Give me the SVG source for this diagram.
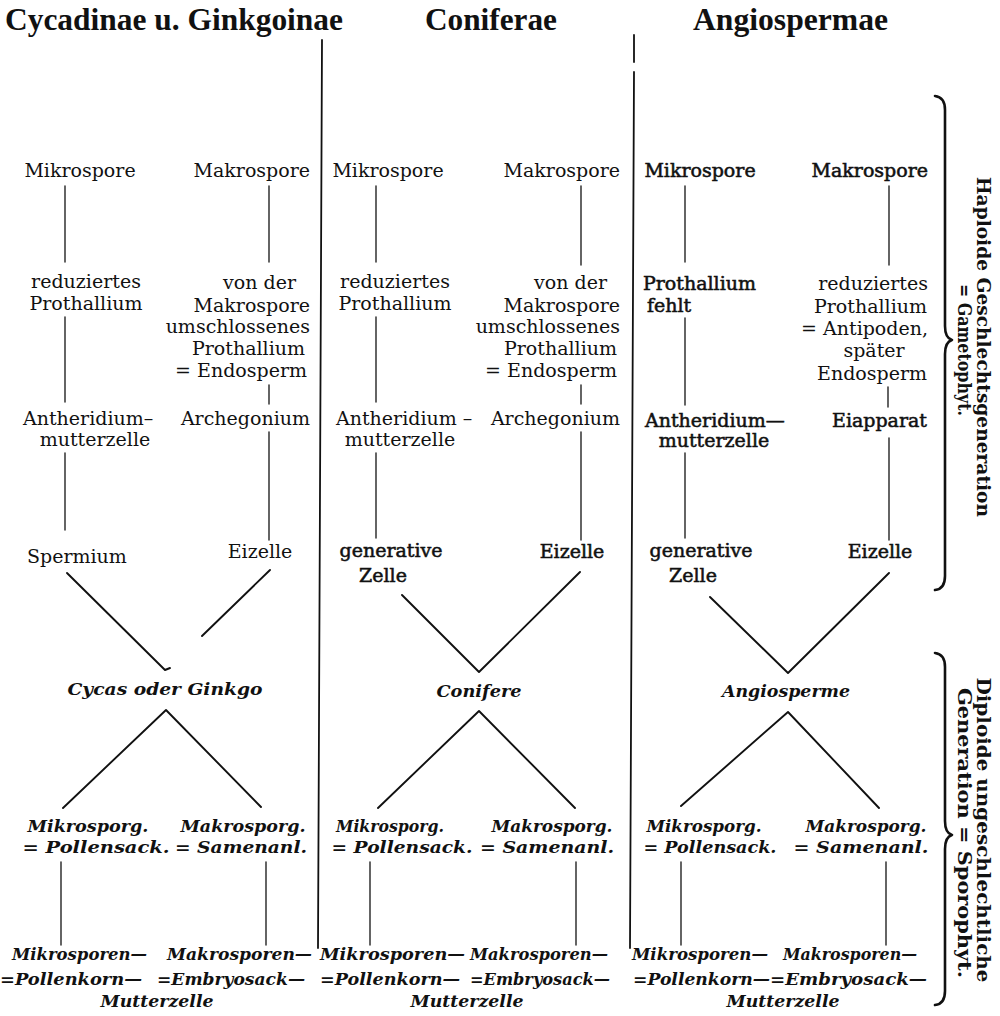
<svg xmlns="http://www.w3.org/2000/svg" width="1000" height="1016" viewBox="0 0 1000 1016">
<style>
text{fill:#111;font-family:"DejaVu Serif","Liberation Serif",serif}
.h{font-family:"Liberation Serif",serif;font-weight:bold;font-size:32px}
.t{font-size:19px}
.b{font-size:19px;stroke:#111;stroke-width:0.55}
.i{font-size:17px;font-style:italic;font-weight:bold}
.v{font-size:18px;font-weight:bold}
.m{text-anchor:middle}
.e{text-anchor:end}
line,polyline,path{stroke:#111;fill:none;stroke-linecap:round;stroke-linejoin:round}
.thin{stroke-width:1.3}
.diag{stroke-width:1.9}
.div{stroke-width:1.8}
.br{stroke-width:2.6}
</style>
<rect width="1000" height="1016" fill="#fff"/>

<g id="headers">
<text class="h" x="5" y="30" textLength="338" lengthAdjust="spacingAndGlyphs">Cycadinae u. Ginkgoinae</text>
<text class="h" x="425" y="30" textLength="132" lengthAdjust="spacingAndGlyphs">Coniferae</text>
<text class="h" x="693" y="30" textLength="195" lengthAdjust="spacingAndGlyphs">Angiospermae</text>
</g>

<g id="connectors">
<line class="div" x1="322" y1="40" x2="318" y2="948"/>
<line class="div" x1="634" y1="35" x2="634" y2="62"/>
<line class="div" x1="634" y1="72" x2="630" y2="948"/>
<!-- col 1 -->
<line class="thin" x1="65" y1="186" x2="65" y2="262"/>
<line class="thin" x1="269" y1="186" x2="269" y2="262"/>
<line class="thin" x1="65" y1="317" x2="65" y2="402"/>
<line class="thin" x1="269" y1="385" x2="269" y2="404"/>
<line class="thin" x1="65" y1="453" x2="65" y2="530"/>
<line class="thin" x1="269" y1="432" x2="269" y2="540"/>
<polyline class="diag" points="67,573 165,670 170,668"/>
<line class="diag" x1="270" y1="570" x2="202" y2="636"/>
<polyline class="diag" points="63,808 166,710 261,807"/>
<line class="thin" x1="61" y1="862" x2="61" y2="945"/>
<line class="thin" x1="266" y1="862" x2="266" y2="945"/>
<!-- col 2 -->
<line class="thin" x1="376" y1="186" x2="376" y2="262"/>
<line class="thin" x1="581" y1="186" x2="581" y2="265"/>
<line class="thin" x1="376" y1="317" x2="376" y2="402"/>
<line class="thin" x1="581" y1="385" x2="581" y2="404"/>
<line class="thin" x1="376" y1="453" x2="376" y2="538"/>
<line class="thin" x1="581" y1="432" x2="581" y2="540"/>
<polyline class="diag" points="402,595 479,672 580,572"/>
<polyline class="diag" points="378,808 479,711 575,808"/>
<line class="thin" x1="370" y1="862" x2="370" y2="945"/>
<line class="thin" x1="576" y1="862" x2="576" y2="945"/>
<!-- col 3 -->
<line class="thin" x1="685" y1="186" x2="685" y2="262"/>
<line class="thin" x1="889" y1="186" x2="889" y2="265"/>
<line class="thin" x1="685" y1="318" x2="685" y2="405"/>
<line class="thin" x1="888" y1="387" x2="888" y2="407"/>
<line class="thin" x1="685" y1="453" x2="685" y2="538"/>
<line class="thin" x1="889" y1="438" x2="889" y2="540"/>
<polyline class="diag" points="710,597 788,673 889,573"/>
<polyline class="diag" points="681,806 788,712 879,808"/>
<line class="thin" x1="681" y1="862" x2="681" y2="945"/>
<line class="thin" x1="886" y1="862" x2="886" y2="945"/>
<!-- braces -->
<path class="br" d="M935 96 Q945 97 945 110 L945 326 Q945 338 952 340 Q945 342 945 354 L945 576 Q945 589 935 590"/>
<path class="br" d="M935 653 Q945 654 945 667 L945 821 Q945 833 952 835 Q945 837 945 849 L945 991 Q945 1004 935 1005"/>
</g>

<g id="col1">
<text class="t m" x="80" y="177">Mikrospore</text>
<text class="t e" x="310" y="177">Makrospore</text>
<text class="t m" x="86" y="288">reduziertes</text>
<text class="t m" x="86" y="310">Prothallium</text>
<text class="t e" x="296" y="289">von der</text>
<text class="t e" x="310" y="312">Makrospore</text>
<text class="t e" x="310" y="333">umschlossenes</text>
<text class="t e" x="305" y="355">Prothallium</text>
<text class="t e" x="307" y="377">= Endosperm</text>
<text class="t" x="23" y="425">Antheridium–</text>
<text class="t e" x="310" y="425">Archegonium</text>
<text class="t m" x="95" y="446">mutterzelle</text>
<text class="t" x="27" y="563">Spermium</text>
<text class="t m" x="260" y="558">Eizelle</text>
<text class="i m" x="165" y="695" textLength="195" lengthAdjust="spacingAndGlyphs">Cycas oder Ginkgo</text>
<text class="i m" x="88" y="832" textLength="121" lengthAdjust="spacingAndGlyphs">Mikrosporg.</text>
<text class="i m" x="96" y="853" textLength="147" lengthAdjust="spacingAndGlyphs">= Pollensack.</text>
<text class="i m" x="243" y="832" textLength="125" lengthAdjust="spacingAndGlyphs">Makrosporg.</text>
<text class="i m" x="241" y="853" textLength="132" lengthAdjust="spacingAndGlyphs">= Samenanl.</text>
<text class="i" x="12" y="960" textLength="135" lengthAdjust="spacingAndGlyphs">Mikrosporen—</text>
<text class="i" x="167" y="960" textLength="145" lengthAdjust="spacingAndGlyphs">Makrosporen—</text>
<text class="i" x="0" y="985" textLength="142" lengthAdjust="spacingAndGlyphs">=Pollenkorn—</text>
<text class="i" x="157" y="985" textLength="148" lengthAdjust="spacingAndGlyphs">=Embryosack—</text>
<text class="i m" x="157" y="1007" textLength="113" lengthAdjust="spacingAndGlyphs">Mutterzelle</text>
</g>

<g id="col2">
<text class="t m" x="388" y="177">Mikrospore</text>
<text class="t e" x="620" y="177">Makrospore</text>
<text class="t m" x="395" y="288">reduziertes</text>
<text class="t m" x="395" y="310">Prothallium</text>
<text class="t e" x="607" y="289">von der</text>
<text class="t e" x="620" y="312">Makrospore</text>
<text class="t e" x="620" y="333">umschlossenes</text>
<text class="t e" x="617" y="355">Prothallium</text>
<text class="t e" x="617" y="377">= Endosperm</text>
<text class="t" x="336" y="425">Antheridium –</text>
<text class="t e" x="620" y="425">Archegonium</text>
<text class="t m" x="400" y="446">mutterzelle</text>
<text class="b m" x="391" y="557">generative</text>
<text class="b m" x="383" y="582">Zelle</text>
<text class="b m" x="572" y="558">Eizelle</text>
<text class="i m" x="479" y="697" textLength="85" lengthAdjust="spacingAndGlyphs">Conifere</text>
<text class="i m" x="390" y="832" textLength="108" lengthAdjust="spacingAndGlyphs">Mikrosporg.</text>
<text class="i m" x="402" y="853" textLength="141" lengthAdjust="spacingAndGlyphs">= Pollensack.</text>
<text class="i m" x="552" y="832" textLength="121" lengthAdjust="spacingAndGlyphs">Makrosporg.</text>
<text class="i m" x="547" y="853" textLength="134" lengthAdjust="spacingAndGlyphs">= Samenanl.</text>
<text class="i" x="320" y="960" textLength="145" lengthAdjust="spacingAndGlyphs">Mikrosporen—</text>
<text class="i" x="470" y="960" textLength="138" lengthAdjust="spacingAndGlyphs">Makrosporen—</text>
<text class="i" x="320" y="985" textLength="140" lengthAdjust="spacingAndGlyphs">=Pollenkorn—</text>
<text class="i" x="470" y="985" textLength="140" lengthAdjust="spacingAndGlyphs">=Embryosack—</text>
<text class="i m" x="467" y="1007" textLength="113" lengthAdjust="spacingAndGlyphs">Mutterzelle</text>
</g>

<g id="col3">
<text class="b m" x="700" y="177">Mikrospore</text>
<text class="b e" x="928" y="177">Makrospore</text>
<text class="b" x="643" y="290">Prothallium</text>
<text class="b" x="647" y="312">fehlt</text>
<text class="t e" x="928" y="290">reduziertes</text>
<text class="t e" x="927" y="313">Prothallium</text>
<text class="t e" x="928" y="335">= Antipoden,</text>
<text class="t m" x="874" y="357">später</text>
<text class="t e" x="927" y="380">Endosperm</text>
<text class="b" x="645" y="427">Antheridium—</text>
<text class="b m" x="714" y="447">mutterzelle</text>
<text class="b e" x="927" y="427">Eiapparat</text>
<text class="b m" x="701" y="557">generative</text>
<text class="b m" x="693" y="582">Zelle</text>
<text class="b m" x="880" y="558">Eizelle</text>
<text class="i m" x="786" y="697" textLength="128" lengthAdjust="spacingAndGlyphs">Angiosperme</text>
<text class="i m" x="704" y="832" textLength="115" lengthAdjust="spacingAndGlyphs">Mikrosporg.</text>
<text class="i m" x="710" y="853" textLength="133" lengthAdjust="spacingAndGlyphs">= Pollensack.</text>
<text class="i m" x="866" y="832" textLength="121" lengthAdjust="spacingAndGlyphs">Makrosporg.</text>
<text class="i m" x="861" y="853" textLength="135" lengthAdjust="spacingAndGlyphs">= Samenanl.</text>
<text class="i" x="632" y="960" textLength="136" lengthAdjust="spacingAndGlyphs">Mikrosporen—</text>
<text class="i" x="783" y="960" textLength="134" lengthAdjust="spacingAndGlyphs">Makrosporen—</text>
<text class="i" x="633" y="985" textLength="137" lengthAdjust="spacingAndGlyphs">=Pollenkorn—</text>
<text class="i" x="770" y="985" textLength="157" lengthAdjust="spacingAndGlyphs">=Embryosack—</text>
<text class="i m" x="783" y="1007" textLength="113" lengthAdjust="spacingAndGlyphs">Mutterzelle</text>
</g>

<g id="side-labels">
<text class="v m" transform="translate(977,347) rotate(90)" textLength="340" lengthAdjust="spacingAndGlyphs">Haploide Geschlechtsgeneration</text>
<text class="v m" transform="translate(958,350) rotate(90)" textLength="132" lengthAdjust="spacingAndGlyphs">= Gametophyt.</text>
<text class="v m" transform="translate(977,830) rotate(90)" textLength="305" lengthAdjust="spacingAndGlyphs">Diploide ungeschlechtliche</text>
<text class="v m" transform="translate(958,833) rotate(90)" textLength="290" lengthAdjust="spacingAndGlyphs">Generation = Sporophyt.</text>
</g>
</svg>
